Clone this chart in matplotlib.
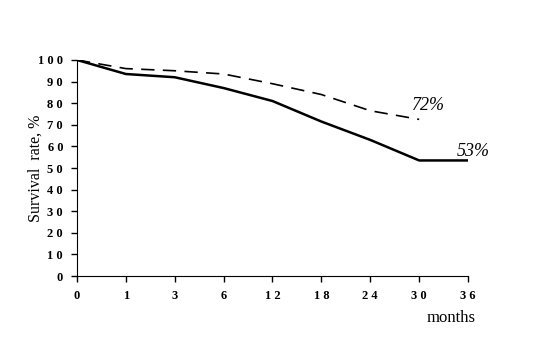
import matplotlib.pyplot as plt

months = ["0", "1", "3", "6", "12", "18", "24", "30", "36"]
solid = [100, 93.5, 92, 87, 81, 71.5, 63, 53.5, 53.5]
dashed = [100, 96, 95, 93.5, 89, 84, 76.5, 72.5]
yticks = list(range(0, 101, 10))

plt.rcParams['font.family'] = ['Liberation Serif', 'DejaVu Serif']

fig = plt.figure(figsize=(5.38, 3.59), dpi=100)
ax = fig.add_axes([0.143, 0.231, 0.727, 0.602])

ax.plot(range(len(solid)), solid, color='black', lw=1.8)
ax.plot(range(len(dashed)), dashed, color='black', lw=1.2, dashes=(8, 5))

ax.set_xlim(0, len(months) - 1)
ax.set_ylim(0, 100)
ax.set_xticks(range(len(months)))
ax.set_xticklabels([" ".join(m) for m in months], fontsize=9, fontweight='bold')
ax.set_yticks(yticks)
ax.set_yticklabels([" ".join(str(t)) for t in yticks], fontsize=9, fontweight='bold')
ax.tick_params(length=4, width=1, pad=6)
ax.spines['top'].set_visible(False)
ax.spines['right'].set_visible(False)

ax.text(7.18, 79, "72%", fontsize=13, style='italic', ha='center', va='center')
ax.text(8.1, 57.5, "53%", fontsize=13, style='italic', ha='center', va='center')

ax.set_ylabel("Survival  rate, %", fontsize=11.5)
ax.yaxis.set_label_coords(-0.085, 0.5)
ax.text(1.018, -0.194, "months", transform=ax.transAxes, fontsize=12, ha='right', va='center')

fig.savefig("out.png", dpi=100)
